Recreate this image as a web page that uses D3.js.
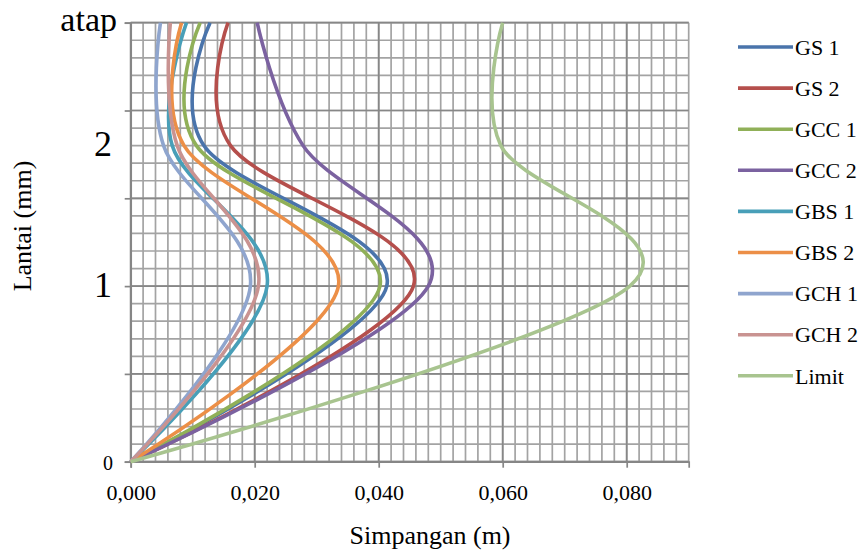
<!DOCTYPE html>
<html>
<head>
<meta charset="utf-8">
<script src="https://cdn.jsdelivr.net/npm/d3@7/dist/d3.min.js"></script>
<style>
 body{margin:0;background:#fff}
 svg text{font-family:"Liberation Serif","Times New Roman",serif;fill:#000}
</style>
</head>
<body>
<svg id="chart" width="865" height="553"></svg>
<script>
// floor heights (y values of the data points) and their labels
var floors=[0,4,7.2,10];
var floorLabels=["0","1","2","atap"];
var xTicks=[0,0.02,0.04,0.06,0.08];

// drift per floor, bottom to roof
var gs1=[0,0.0413,0.0118,0.0128];
var gs2=[0,0.0456,0.0161,0.0157];
var gcc1=[0,0.0402,0.0106,0.0112];
var gcc2=[0,0.0480,0.0278,0.0204];
var gbs1=[0,0.0220,0.0067,0.0090];
var gbs2=[0,0.0335,0.0086,0.0082];
var gch1=[0,0.0193,0.0053,0.0048];
var gch2=[0,0.0206,0.0075,0.0064];
var limit=[0,0.0805,0.0597,0.0600];

var names=["GS 1","GS 2","GCC 1","GCC 2","GBS 1","GBS 2","GCH 1","GCH 2","Limit"];
var seriesVals=[gs1,gs2,gcc1,gcc2,gbs1,gbs2,gch1,gch2,limit];
var colors=["#4A74AB","#B54F4C","#90B058","#7B62A0","#489FB8","#EC8F47","#8FA5CE","#C99391","#A8C48F"];

var svg=d3.select("#chart");
var x=d3.scaleLinear().domain([0,0.09]).range([130.7,688.7]);
var y=d3.scaleLinear().domain([0,10]).range([461.7,22.7]);

var grid=svg.append("g");
// minor grid
grid.selectAll(".vx").data(d3.range(46).map(function(i){return i*0.002;})).enter().append("line")
 .attr("x1",function(d){return x(d);}).attr("x2",function(d){return x(d);})
 .attr("y1",y(0)).attr("y2",y(10)).attr("stroke","#a3a3a3").attr("stroke-width",1.7);
grid.selectAll(".hy").data(d3.range(26).map(function(i){return i*0.4;})).enter().append("line")
 .attr("y1",function(d){return y(d);}).attr("y2",function(d){return y(d);})
 .attr("x1",x(0)).attr("x2",x(0.09)).attr("stroke","#a3a3a3").attr("stroke-width",1.7);
// major grid
grid.selectAll(".mx").data(xTicks).enter().append("line")
 .attr("x1",function(d){return x(d);}).attr("x2",function(d){return x(d);})
 .attr("y1",y(0)).attr("y2",y(10)).attr("stroke","#878787").attr("stroke-width",1.7);
grid.selectAll(".my").data([0,2,4,6,8,10]).enter().append("line")
 .attr("y1",function(d){return y(d);}).attr("y2",function(d){return y(d);})
 .attr("x1",x(0)).attr("x2",x(0.09)).attr("stroke","#878787").attr("stroke-width",1.7);

// x axis
var fmt=function(d){return d3.format(".3f")(d).replace(".",",");};
var xAxis=svg.append("g").attr("transform","translate(0,"+y(0)+")")
 .call(d3.axisBottom(x).tickValues(xTicks).tickSize(6).tickPadding(17).tickFormat(fmt));
xAxis.select(".domain").attr("stroke","#868686").attr("stroke-width",1.7);
xAxis.selectAll(".tick line").attr("stroke","#868686").attr("stroke-width",1.7);
xAxis.selectAll("text").style("font-family","'Liberation Serif',serif").style("font-size","22px").attr("fill","#000");

// y axis
var yAxis=svg.append("g").attr("transform","translate("+x(0)+",0)")
 .call(d3.axisLeft(y).tickValues([0,2,4,6,8,10]).tickSize(6).tickFormat(""));
yAxis.select(".domain").attr("stroke","#868686").attr("stroke-width",1.7);
yAxis.selectAll(".tick line").attr("stroke","#868686").attr("stroke-width",1.7);

svg.selectAll(".flab").data(floors).enter().append("text")
 .attr("x",function(d,i){return i==0?113:(i==3?117:112);})
 .attr("y",function(d){return y(d);})
 .attr("dy",function(d,i){return i==0?"0.4em":(i==3?"0.24em":"0.3em");})
 .attr("text-anchor","end")
 .style("font-size",function(d,i){return i==0?"20px":(i==3?"34px":"36px");})
 .text(function(d,i){return floorLabels[i];});

// axis titles
svg.append("text").attr("x",430).attr("y",544).attr("text-anchor","middle")
 .style("font-size","26px").text("Simpangan (m)");
svg.append("text").attr("transform","translate(31,226) rotate(-90)").attr("text-anchor","middle")
 .style("font-size","26px").text("Lantai (mm)");

// curves
var line=d3.line().x(function(d){return x(d[0]);}).y(function(d){return y(d[1]);})
 .curve(d3.curveCardinal.tension(0));
svg.append("g").selectAll("path").data(seriesVals).enter().append("path")
 .attr("d",function(s){return line(s.map(function(v,i){return [v,floors[i]];}));})
 .attr("fill","none").attr("stroke",function(d,i){return colors[i];})
 .attr("stroke-width",3.6).attr("stroke-linejoin","round");

// legend
var leg=svg.append("g").selectAll("g").data(names).enter().append("g")
 .attr("transform",function(d,i){return "translate(738,"+(47+i*41.1)+")";});
leg.append("line").attr("x1",0).attr("x2",55).attr("stroke",function(d,i){return colors[i];}).attr("stroke-width",3.6);
leg.append("text").attr("x",57).attr("dy","0.35em").style("font-size","22px").text(function(d){return d;});
</script>
</body>
</html>
